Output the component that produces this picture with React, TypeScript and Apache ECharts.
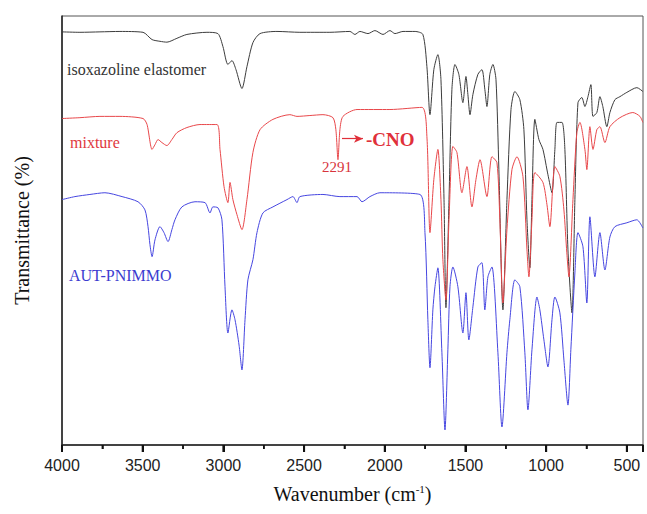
import React, { useEffect, useRef } from "react";
import * as echarts from "echarts";

// Wavenumber (cm-1) and transmittance (arbitrary %, offset traces)
const elastomerWn = [4000,3889,3765,3641,3498,3442,3393,3350,3288,3226,3102,3034,3003,2972,2947,2922,2885,2854,2817,2773,2668,2526,2340,2216,2185,2154,2104,2061,2011,1968,1937,1887,1813,1764,1739,1720,1696,1671,1652,1633,1621,1602,1584,1565,1541,1516,1497,1485,1472,1454,1423,1398,1380,1367,1349,1330,1311,1293,1268,1243,1218,1194,1163,1138,1119,1101,1088,1070,1045,1020,989,964,946,933,902,884,865,840,822,803,779,760,741,723,710,686,667,649,624,605,574,543,500,438,401];
const elastomerT = [96.3,96.2,96.3,96.4,96.2,94.5,94.1,93.9,94.8,95.7,96.2,95.9,92.9,88.7,89.6,87.5,83.1,88.2,93.8,95.9,96.4,96.2,96.2,96.4,95.7,96.4,95.9,96.6,95.7,96.6,95.9,96.4,96.4,95.7,88.2,77.0,87.5,91.0,85.2,57.2,32.0,57.2,82.9,88.7,86.4,79.8,85.9,81.7,77.0,81.7,86.4,87.5,82.9,78.9,86.4,88.7,85.2,64.2,31.5,57.2,78.2,82.4,80.5,73.5,52.5,41.3,57.2,75.9,71.2,68.9,63.0,58.8,68.9,75.2,75.2,68.9,45.5,30.8,57.2,79.8,81.0,78.9,81.2,84.0,76.6,77.5,81.2,78.9,74.2,77.5,80.5,81.2,82.2,83.3,82.4];

const mixtureWn = [4000,3889,3765,3641,3498,3473,3442,3424,3405,3381,3350,3319,3288,3226,3145,3040,3021,2996,2972,2959,2941,2916,2885,2854,2817,2773,2693,2588,2544,2464,2383,2321,2303,2290,2278,2259,2172,1968,1770,1739,1720,1696,1671,1652,1640,1621,1602,1578,1553,1522,1491,1460,1435,1410,1367,1336,1305,1287,1268,1243,1212,1181,1144,1119,1107,1088,1070,1020,995,977,946,915,890,872,859,834,810,791,760,748,729,710,686,667,636,605,543,463,419,401];
const mixtureT = [76.1,76.3,76.6,76.6,76.1,74.7,68.9,70.0,71.2,70.5,69.8,71.2,72.8,74.0,74.7,74.7,68.9,60.2,56.5,61.2,57.2,53.7,50.2,57.2,68.2,73.5,75.9,77.0,76.6,76.8,77.0,76.3,73.5,66.5,73.5,76.6,78.2,78.2,78.7,71.9,49.5,61.9,68.9,57.2,43.2,33.8,52.5,69.6,68.2,58.8,64.9,55.5,61.9,66.5,57.9,67.2,65.8,52.5,33.1,50.2,64.2,67.2,62.6,45.5,39.2,52.5,63.5,61.2,56.0,50.9,64.9,62.6,54.8,44.8,39.2,57.2,72.8,75.2,68.9,64.2,74.2,68.9,73.5,74.2,70.5,74.2,76.3,77.5,76.6,75.2];

const pnimmoWn = [4000,3920,3827,3734,3628,3529,3486,3467,3455,3442,3424,3393,3368,3343,3319,3300,3257,3176,3114,3083,3065,3034,3009,2990,2972,2947,2928,2903,2885,2866,2848,2817,2792,2755,2693,2606,2569,2544,2526,2383,2278,2172,2141,2092,2030,1782,1751,1733,1720,1702,1689,1671,1646,1627,1609,1596,1578,1547,1516,1497,1479,1454,1423,1398,1380,1361,1336,1299,1274,1243,1225,1194,1163,1132,1113,1088,1057,1039,1014,989,964,946,915,890,865,847,822,803,772,748,729,698,667,636,605,574,500,438,401];
const pnimmoT = [57.2,57.9,58.4,58.8,57.9,56.7,54.8,50.9,46.7,43.9,47.8,50.9,49.5,47.4,50.2,52.5,55.5,56.7,56.5,54.1,55.5,55.3,52.5,36.9,26.1,31.5,29.2,23.3,17.5,29.2,38.5,43.2,49.5,54.1,55.5,57.2,57.9,56.5,57.9,58.4,57.9,57.9,56.7,57.9,58.8,58.4,49.5,29.2,18.0,31.5,36.9,41.3,21.5,3.5,22.2,36.9,41.5,36.9,26.1,35.5,24.5,32.2,41.5,42.5,31.5,39.2,41.5,21.5,4.2,21.5,29.2,38.5,36.9,21.5,8.2,22.2,34.5,31.5,24.5,18.2,29.2,34.5,30.8,19.8,9.3,22.2,40.1,49.5,46.2,33.1,53.2,39.2,49.5,40.8,48.5,50.9,51.8,52.5,50.6];

const seriesNames = ["isoxazoline elastomer", "mixture", "AUT-PNIMMO"];
const xMajorTicks = [4000, 3500, 3000, 2500, 2000, 1500, 1000, 500];
const xMinorTicks = [3750, 3250, 2750, 2250, 1750, 1250, 750];
const cnoArrowWn = [2265, 2135];
const cnoArrowT = 71.4;

const SERIF = '"Liberation Serif", "Times New Roman", serif';
const SANS = '"Liberation Sans", Arial, sans-serif';

const toPairs = (wn: number[], t: number[]) => wn.map((w, i) => [-w, t[i]]);

export default function App() {
  const ref = useRef<HTMLDivElement>(null);
  useEffect(() => {
    if (!ref.current) return;
    const chart = echarts.init(ref.current, null, { renderer: "svg" });
    const tickData = [
      ...xMajorTicks.map((v) => [-v, 1]),
      ...xMinorTicks.map((v) => [-v, 0]),
    ];
    chart.setOption({
      animation: false,
      grid: {
        left: 62,
        right: 4,
        top: 16,
        bottom: 69,
        show: true,
        borderColor: "#555",
        borderWidth: 1,
      },
      xAxis: {
        type: "value",
        min: -4000,
        max: -400,
        interval: 500,
        splitLine: { show: false },
        name: "Wavenumber (cm{sup|-1})",
        nameLocation: "middle",
        nameGap: 38,
        nameTextStyle: {
          fontFamily: SERIF,
          fontSize: 20,
          color: "#111",
          rich: {
            sup: { fontSize: 11, fontFamily: SERIF, color: "#111", verticalAlign: "top", padding: [0, 0, 10, 0] },
          },
        },
        axisLine: { show: true, lineStyle: { color: "#222", width: 1.5 } },
        axisTick: { show: true, length: 7, lineStyle: { color: "#111", width: 2 } },
        minorTick: { show: true, splitNumber: 2, length: 4, lineStyle: { color: "#111", width: 1.5 } },
        axisLabel: {
          show: true,
          margin: 12,
          fontFamily: SANS,
          fontSize: 16,
          color: "#222",
          formatter: (v: number) => (xMajorTicks.indexOf(-v) >= 0 ? String(-v) : ""),
        },
      },
      yAxis: {
        type: "value",
        min: 0,
        max: 100,
        name: "Transmittance (%)",
        nameLocation: "middle",
        nameGap: 30,
        nameTextStyle: { fontFamily: SERIF, fontSize: 20, color: "#111" },
        axisLine: { show: true, lineStyle: { color: "#222", width: 1.5 } },
        axisTick: { show: false },
        axisLabel: { show: false },
        splitLine: { show: false },
      },
      series: [
        {
          name: seriesNames[0],
          type: "line",
          data: toPairs(elastomerWn, elastomerT),
          showSymbol: false,
          smooth: 0.25,
          lineStyle: { color: "#3c3c3c", width: 1 },
        },
        {
          name: seriesNames[1],
          type: "line",
          data: toPairs(mixtureWn, mixtureT),
          showSymbol: false,
          smooth: 0.25,
          lineStyle: { color: "#e8474a", width: 1 },
          markLine: {
            silent: true,
            symbol: ["none", "arrow"],
            symbolSize: [6, 9],
            label: { show: false },
            lineStyle: { color: "#e0303a", width: 1.2, type: "solid" },
            data: [[{ coord: [-cnoArrowWn[0], cnoArrowT] }, { coord: [-cnoArrowWn[1], cnoArrowT] }]],
          },
        },
        {
          name: seriesNames[2],
          type: "line",
          data: toPairs(pnimmoWn, pnimmoT),
          showSymbol: false,
          smooth: 0.25,
          lineStyle: { color: "#4646e0", width: 1 },
        },
        {
          name: "ticks",
          type: "custom",
          silent: true,
          clip: false,
          z: 20,
          data: tickData,
          renderItem: (params: any, api: any) => {
            const p = api.coord([api.value(0), 0]);
            const major = api.value(1) === 1;
            return {
              type: "line",
              shape: { x1: p[0], y1: p[1], x2: p[0], y2: p[1] + (major ? 7 : 4) },
              style: { stroke: "#111", lineWidth: major ? 2 : 1.5 },
            };
          },
        },
      ],
      graphic: [
        { type: "text", x: 67, y: 69, style: { text: seriesNames[0], fontFamily: SERIF, fontSize: 16, fill: "#333", verticalAlign: "middle" } },
        { type: "text", x: 70, y: 142, style: { text: seriesNames[1], fontFamily: SERIF, fontSize: 16, fill: "#e0383e", verticalAlign: "middle" } },
        { type: "text", x: 69, y: 275, style: { text: seriesNames[2], fontFamily: SERIF, fontSize: 16, fill: "#3c3cd0", verticalAlign: "middle" } },
        { type: "text", x: 322, y: 167, style: { text: "2291", fontFamily: SERIF, fontSize: 15, fill: "#d8343c", verticalAlign: "middle" } },
        { type: "text", x: 366, y: 139, style: { text: "-CNO", fontFamily: SERIF, fontSize: 19, fontWeight: "bold", fill: "#e0303a", verticalAlign: "middle" } },
      ],
    });
    return () => chart.dispose();
  }, []);
  return (
    <div
      ref={ref}
      style={{ position: "absolute", left: 0, top: 0, width: 647, height: 514, background: "#fff" }}
    />
  );
}
